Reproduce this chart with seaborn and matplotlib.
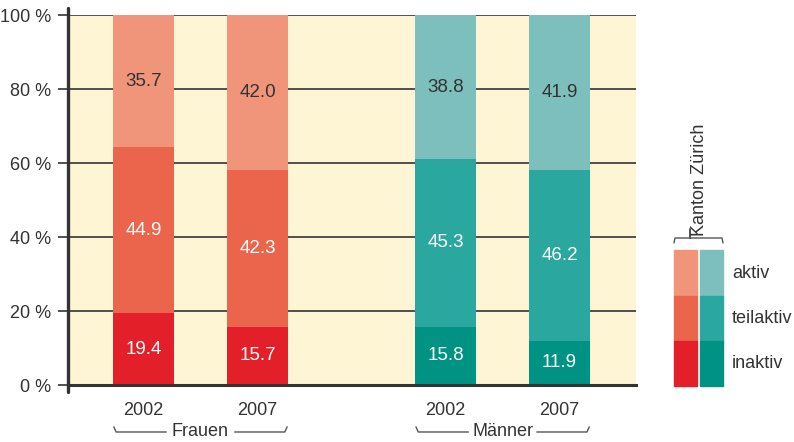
import pandas as pd
import matplotlib.pyplot as plt
import seaborn as sns
from matplotlib.patches import Rectangle
from matplotlib.transforms import blended_transform_factory

# data
groups = ["Frauen", "Frauen", "Männer", "Männer"]
years = ["2002", "2007", "2002", "2007"]
inaktiv = [19.4, 15.7, 15.8, 11.9]
teilaktiv = [44.9, 42.3, 45.3, 46.2]
aktiv = [35.7, 42.0, 38.8, 41.9]
categories = ["aktiv", "teilaktiv", "inaktiv"]
legend_title = "Kanton Zürich"

# layout
xpos = [0, 1, 2.65, 3.65]
colors = {
    "Frauen": {"aktiv": "#F0957A", "teilaktiv": "#EA654B", "inaktiv": "#E3202A"},
    "Männer": {"aktiv": "#7DBFBC", "teilaktiv": "#2AA8A0", "inaktiv": "#009383"},
}
text_col = "#333333"
fs = 13.5

sns.set_theme(style="white")
plt.rcParams["font.family"] = ["Liberation Sans", "DejaVu Sans"]

df = pd.DataFrame({"x": xpos, "group": groups, "year": years,
                   "inaktiv": inaktiv, "teilaktiv": teilaktiv, "aktiv": aktiv})
df["lvl_inaktiv"] = df["inaktiv"]
df["lvl_teilaktiv"] = df["inaktiv"] + df["teilaktiv"]
df["lvl_aktiv"] = df["lvl_teilaktiv"] + df["aktiv"]

W, H = 794, 442
fig = plt.figure(figsize=(W / 100, H / 100), dpi=100)
ax = fig.add_axes([68 / W, 57 / H, 568 / W, 370 / H])
ax.set_facecolor("#FEF5D4")

# stacked bars as layered cumulative bars
for cat in ["aktiv", "teilaktiv", "inaktiv"]:
    sns.barplot(data=df, x="x", y="lvl_" + cat, hue="group", native_scale=True,
                palette={g: colors[g][cat] for g in colors}, dodge=False,
                width=0.535, saturation=1, linewidth=0, legend=False, ax=ax)

# value labels
for _, r in df.iterrows():
    ax.text(r["x"], r["inaktiv"] / 2, f"{r['inaktiv']:.1f}", ha="center", va="center",
            color="white", fontsize=fs)
    ax.text(r["x"], r["inaktiv"] + r["teilaktiv"] / 2, f"{r['teilaktiv']:.1f}",
            ha="center", va="center", color="white", fontsize=fs)
    ax.text(r["x"], r["lvl_teilaktiv"] + r["aktiv"] / 2, f"{r['aktiv']:.1f}",
            ha="center", va="center", color=text_col, fontsize=fs)

ax.set_xlim(-0.662, 4.32)
ax.set_ylim(0, 100)
ax.set_yticks(range(0, 101, 20), [f"{v} %" for v in range(0, 101, 20)])
ax.set_xticks(xpos, years)
ax.tick_params(axis="y", length=7, width=1.2, color=text_col, labelsize=13,
               labelcolor=text_col, pad=5, left=True, direction="out")
ax.tick_params(axis="x", length=0, labelsize=13, labelcolor=text_col, pad=12)
ax.set_xlabel("")
ax.set_ylabel("")
ax.set_axisbelow(True)
ax.yaxis.grid(True, color=text_col, linewidth=1.2)
ax.xaxis.grid(False)
for s in ["top", "right", "left"]:
    ax.spines[s].set_visible(False)
ax.spines["bottom"].set_color(text_col)
ax.spines["bottom"].set_linewidth(2.2)
ax.plot([0, 0], [-0.02, 1.02], transform=ax.transAxes, color=text_col, lw=2.4,
        clip_on=False, zorder=5)

# group braces under the years
tr = blended_transform_factory(ax.transData, ax.transAxes)
y_line, y_hook = -0.127, -0.113
for i, g in enumerate(["Frauen", "Männer"]):
    c = (xpos[2 * i] + xpos[2 * i + 1]) / 2
    ax.text(c, y_line, g, transform=tr, ha="center", va="center", color=text_col,
            fontsize=13, clip_on=False)
    ax.plot([c - 0.76, c - 0.74, c - 0.30], [y_hook, y_line, y_line], transform=tr,
            color="#555555", lw=1, clip_on=False)
    ax.plot([c + 0.30, c + 0.74, c + 0.76], [y_line, y_line, y_hook], transform=tr,
            color="#555555", lw=1, clip_on=False)

# legend (Kanton Zürich)
rows = {"aktiv": (250, 296), "teilaktiv": (296, 341), "inaktiv": (341, 386)}
cols = {"Frauen": (674, 697), "Männer": (700, 723)}
for cat in categories:
    y0, y1 = rows[cat]
    for g, (x0, x1) in cols.items():
        fig.patches.append(Rectangle((x0 / W, 1 - y1 / H), (x1 - x0) / W, (y1 - y0) / H,
                                     transform=fig.transFigure, color=colors[g][cat]))
    fig.text(732 / W, 1 - (y0 + y1) / 2 / H, cat, ha="left", va="center",
             color=text_col, fontsize=13)
fig.text(700 / W, 1 - 180 / H, legend_title, rotation=90, ha="center", va="center",
         color=text_col, fontsize=13)
bx = [674 / W, 675 / W, 690 / W, 690 / W, 690 / W, 722 / W, 723 / W]
by = [1 - 243 / H, 1 - 238 / H, 1 - 238 / H, 1 - 229 / H, 1 - 238 / H, 1 - 238 / H, 1 - 243 / H]
fig.add_artist(plt.Line2D(bx, by, transform=fig.transFigure, color="#555555", lw=1))

fig.savefig("out.png", dpi=100)
